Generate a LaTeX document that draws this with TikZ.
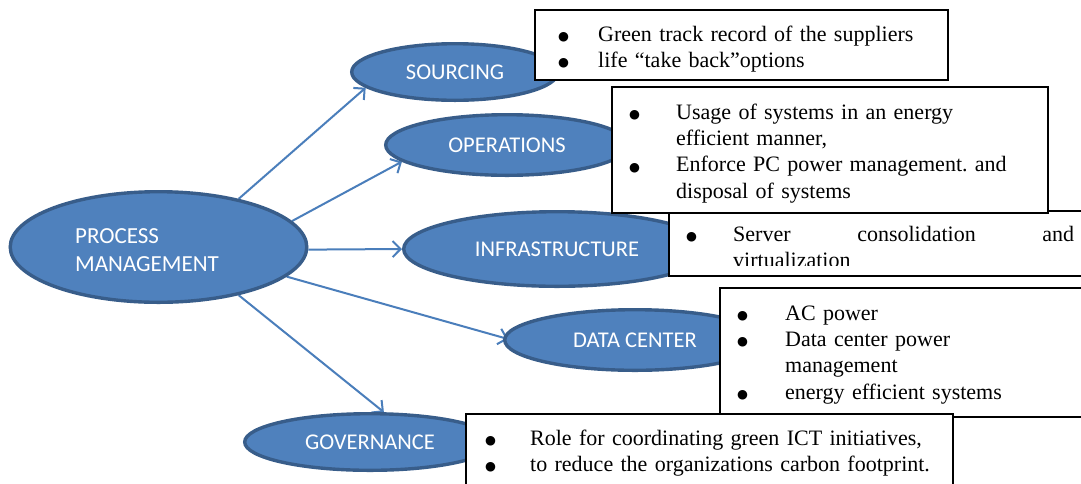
\documentclass[tikz,border=0pt]{standalone}
\usepackage{fontspec}
\setmainfont{Liberation Serif}
\newfontfamily\calib{Carlito}
\newfontfamily\dejavu{DejaVu Sans}
\usetikzlibrary{arrows.meta,shapes.geometric}
\pgfdeclarelayer{back}
\pgfsetlayers{back,main}
\definecolor{ellfill}{HTML}{4F81BD}
\definecolor{elldraw}{HTML}{385D8A}
\definecolor{arrcol}{HTML}{4A7EBB}
\frenchspacing
% bullet set in a box of the given width (pt)
\newcommand\bl[1]{\makebox[#1pt][l]{\raisebox{0.6pt}{\dejavu\fontsize{12.5}{12.5}\selectfont ●}}}

\begin{document}
\begin{tikzpicture}[x=1pt,y=-1pt,
  oval/.style={ellipse, fill=ellfill, draw=elldraw, line width=3.4pt, inner sep=0pt,
               text=white, font=\calib\fontsize{22.5}{27}\selectfont},
  textbox/.style={rectangle, draw=black, fill=white, line width=1.2pt, inner sep=0pt,
                  outer sep=0pt, anchor=north west},
  bullets/.style={anchor=base west, inner sep=0pt, text width=#1pt, align=left,
                  font=\fontsize{22}{26.4}\selectfont},
  link/.style={draw=arrcol, line width=2pt, -{Straight Barb[length=8pt,width=16pt]}}
]
\useasboundingbox (0,0) rectangle (1081,483);
\begin{pgfonlayer}{back}
  \fill[white] (0,0) rectangle (1081,483);
\end{pgfonlayer}
\clip (0,0) rectangle (1081,483);

% central process and its five areas
\node[oval, minimum width=296.6pt, minimum height=110.6pt] (pm) at (158.5,247) {};
\node[anchor=base west, inner sep=0pt, text=white, text width=200pt, align=left,
      font=\calib\fontsize{23}{28}\selectfont] (pmtext) at (75,243) {PROCESS\\MANAGEMENT};
\node[oval, minimum width=206.6pt, minimum height=56.6pt] (src) at (455,72) {SOURCING};
\node[oval, minimum width=242.6pt, minimum height=60.6pt] (ops) at (507,145) {OPERATIONS};
\node[oval, minimum width=306.6pt, minimum height=74.6pt] (inf) at (557,249) {INFRASTRUCTURE};
\node[oval, minimum width=260.6pt, minimum height=60.6pt] (dc) at (635,340) {DATA CENTER};
\node[oval, minimum width=250.6pt, minimum height=56.6pt] (gov) at (370,442) {GOVERNANCE};

% connectors, kept behind the ovals
\begin{pgfonlayer}{back}
  \draw[link] (pm.31) -- (src.190);
  \draw[link] (pm.11) -- (ops.189);
  \draw[link] (pm.-1) -- (inf.180);
  \draw[link, shorten >=-5pt] (pm.-13) -- (dc.179);
  \draw[link] (pm.-31) -- (gov.65);
\end{pgfonlayer}

% note boxes
\node[textbox, minimum width=413pt, minimum height=70pt] (b1) at (535,10) {};
\node[bullets=400] (t1) at (558,41)
  {\bl{40}Green track record of the suppliers\\
   \bl{40}life “take back”options};

% the second line of this box runs past its lower margin and is cut there
\node[textbox, minimum width=450pt, minimum height=65pt] (b3) at (669,211) {};
\begin{scope}
  \clip (b3.north west) rectangle ([yshift=11pt]b3.south east);
  \node[bullets=388] (t3) at (686,241)
    {\bl{47}Server\hfill consolidation\hfill and\\
     \hspace*{47pt}virtualization};
\end{scope}

\node[textbox, minimum width=436pt, minimum height=126pt] (b2) at (612,87) {};
\node[bullets=420] (t2) at (629,119)
  {\bl{47}Usage of systems in an energy\\
   \hspace*{47pt}efficient manner,\\
   \bl{47}Enforce PC power management. and\\
   \hspace*{47pt}disposal of systems};

\node[textbox, minimum width=400pt, minimum height=129pt] (b4) at (720,288) {};
\node[bullets=340] (t4) at (737,320)
  {\bl{48}AC power\\
   \bl{48}Data center power\\
   \hspace*{48pt}management\\
   \bl{48}energy efficient systems};

\node[textbox, minimum width=487pt, minimum height=74pt] (b5) at (466,414) {};
\node[bullets=480] (t5) at (485,445)
  {\bl{45}Role for coordinating green ICT initiatives,\\
   \bl{45}to reduce the organizations carbon footprint.};
\end{tikzpicture}
\end{document}
